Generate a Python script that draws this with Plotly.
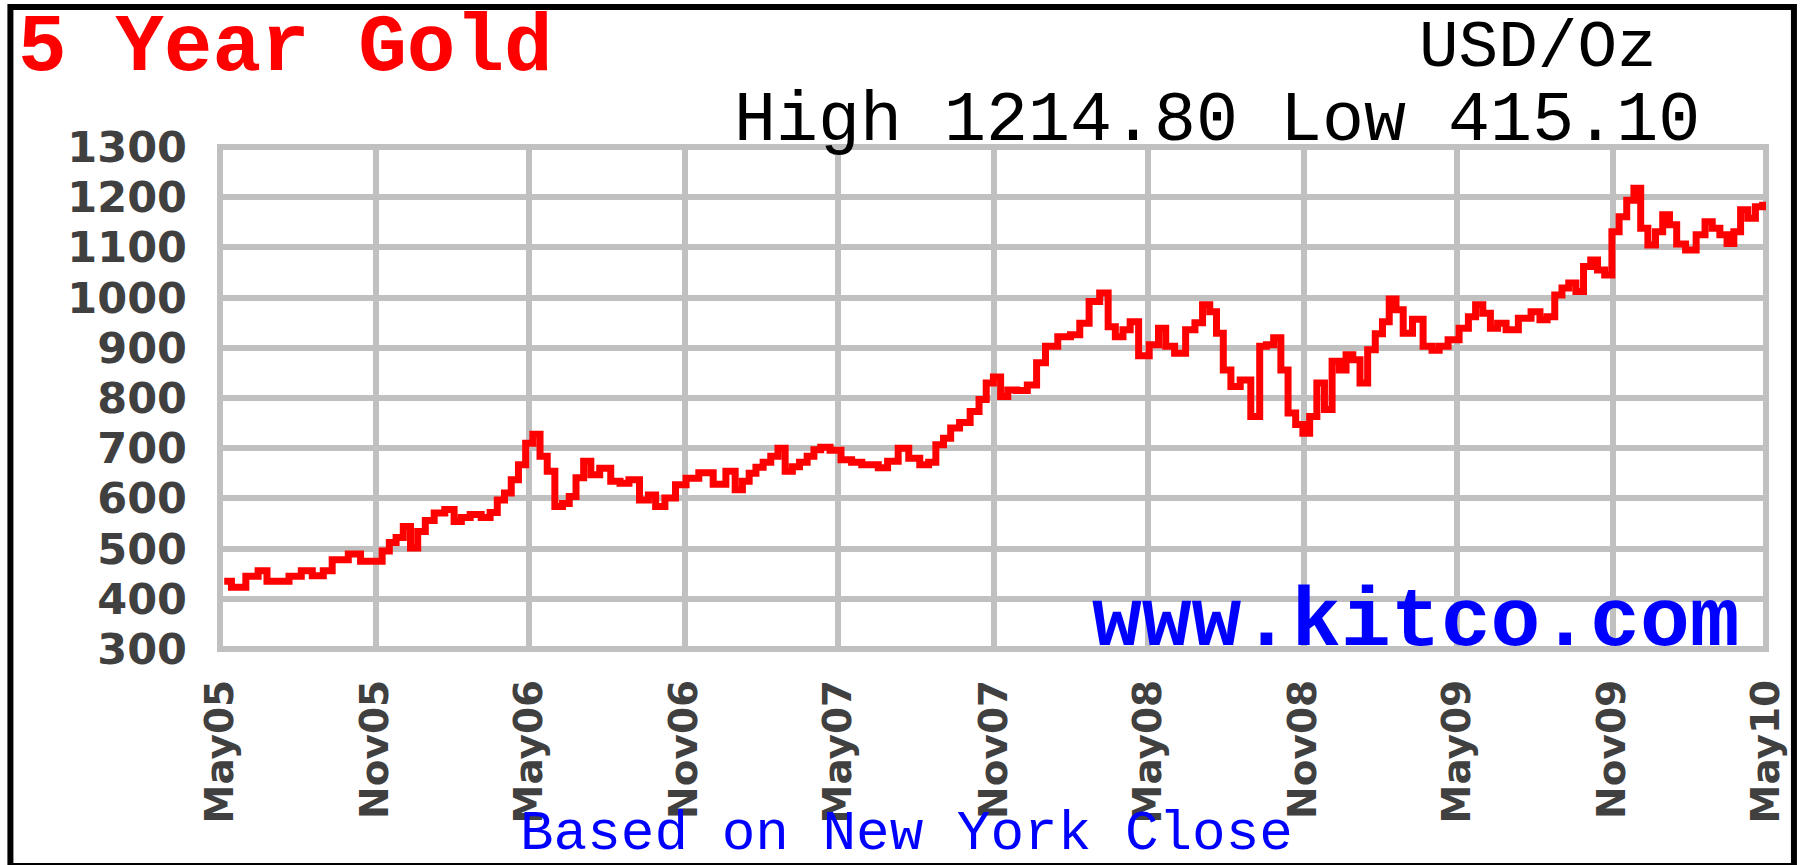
import plotly.graph_objects as go

# ---- data ----
dates = [
    "2005-05-06","2005-05-23","2005-06-09","2005-06-21","2005-06-30","2005-07-13","2005-07-30","2005-08-11","2005-08-25","2005-09-06",
    "2005-09-15","2005-09-23","2005-10-06","2005-10-22","2005-11-04","2005-11-13","2005-11-21","2005-11-29","2005-12-08","2005-12-16",
    "2005-12-25","2006-01-03","2006-01-15","2006-01-28","2006-02-06","2006-02-14","2006-02-27","2006-03-12","2006-03-20","2006-03-29",
    "2006-04-06","2006-04-14","2006-04-23","2006-05-01","2006-05-10","2006-05-18","2006-05-27","2006-06-05","2006-06-14","2006-06-21",
    "2006-06-30","2006-07-09","2006-07-17","2006-07-30","2006-08-12","2006-08-21","2006-09-02","2006-09-15","2006-09-23","2006-10-02",
    "2006-10-15","2006-10-27","2006-11-09","2006-11-26","2006-12-13","2006-12-26","2007-01-04","2007-01-12","2007-01-20","2007-01-28",
    "2007-02-06","2007-02-15","2007-02-23","2007-03-04","2007-03-12","2007-03-21","2007-03-30","2007-04-06","2007-04-15","2007-04-28",
    "2007-05-11","2007-05-23","2007-06-04","2007-06-13","2007-06-22","2007-07-05","2007-07-17","2007-07-30","2007-08-12","2007-08-20",
    "2007-08-29","2007-09-07","2007-09-15","2007-09-28","2007-10-10","2007-10-19","2007-10-27","2007-11-05","2007-11-13","2007-11-22",
    "2007-12-04","2007-12-17","2007-12-26","2008-01-07","2008-01-24","2008-02-06","2008-02-15","2008-02-28","2008-03-11","2008-03-19",
    "2008-03-28","2008-04-06","2008-04-14","2008-04-26","2008-05-09","2008-05-18","2008-05-26","2008-06-08","2008-06-21","2008-06-30",
    "2008-07-09","2008-07-17","2008-07-25","2008-08-02","2008-08-12","2008-08-24","2008-09-06","2008-09-14","2008-09-22","2008-10-01",
    "2008-10-09","2008-10-18","2008-10-27","2008-11-04","2008-11-12","2008-11-21","2008-11-30","2008-12-09","2008-12-17","2008-12-25",
    "2009-01-02","2009-01-11","2009-01-20","2009-01-29","2009-02-06","2009-02-14","2009-02-22","2009-03-03","2009-03-16","2009-03-28",
    "2009-04-06","2009-04-14","2009-04-27","2009-05-10","2009-05-19","2009-05-27","2009-06-05","2009-06-14","2009-06-22","2009-07-04",
    "2009-07-21","2009-08-03","2009-08-11","2009-08-20","2009-08-29","2009-09-06","2009-09-14","2009-09-23","2009-10-02","2009-10-10",
    "2009-10-18","2009-10-27","2009-11-04","2009-11-13","2009-11-22","2009-11-30","2009-12-08","2009-12-17","2009-12-26","2010-01-03",
    "2010-01-11","2010-01-20","2010-02-01","2010-02-14","2010-02-22","2010-03-03","2010-03-12","2010-03-20","2010-03-28","2010-04-05",
    "2010-04-14","2010-04-23","2010-05-01",
]

gold_usd_oz = [
    435, 423, 445, 456, 435, 435, 445, 456, 446, 456,
    478, 478, 489, 475, 475, 495, 512, 522, 544, 501,
    534, 556, 571, 578, 554, 562, 568, 562, 572, 597,
    611, 637, 667, 710, 728, 684, 654, 584, 590, 604,
    641, 674, 647, 660, 634, 630, 637, 597, 607, 584,
    601, 627, 640, 651, 628, 654, 617, 634, 650, 662,
    672, 684, 700, 654, 663, 672, 684, 697, 702, 696,
    677, 672, 667, 667, 661, 674, 700, 680, 667, 672,
    707, 720, 740, 751, 773, 797, 830, 842, 803, 816,
    815, 826, 870, 903, 922, 926, 949, 992, 1009, 942,
    922, 936, 952, 884, 906, 939, 903, 889, 936, 950,
    986, 972, 929, 856, 823, 836, 763, 903, 906, 920,
    856, 770, 747, 730, 763, 830, 777, 873, 856, 886,
    876, 830, 896, 928, 952, 997, 976, 929, 957, 903,
    895, 903, 916, 939, 962, 986, 969, 939, 949, 936,
    959, 972, 956, 962, 1005, 1019, 1029, 1012, 1062, 1075,
    1055, 1045, 1131, 1161, 1194, 1218, 1138, 1105, 1131, 1165,
    1145, 1107, 1095, 1125, 1151, 1138, 1125, 1108, 1131, 1175,
    1158, 1181, 1184,
]

x_tick_dates = ["2005-05-01", "2005-11-01", "2006-05-01", "2006-11-01", "2007-05-01", "2007-11-01",
                "2008-05-01", "2008-11-01", "2009-05-01", "2009-11-01", "2010-05-01"]
x_tick_labels = ["May05", "Nov05", "May06", "Nov06", "May07", "Nov07",
                 "May08", "Nov08", "May09", "Nov09", "May10"]
y_ticks = [300, 400, 500, 600, 700, 800, 900, 1000, 1100, 1200, 1300]

title_text = "5 Year Gold"
unit_text = "USD/Oz"
high_low_text = "High 1214.80 Low 415.10"
site_text = "www.kitco.com"
footer_text = "Based on New York Close"

# ---- figure ----
W, H = 1800, 865
ML, MR, MT, MB = 220, 31, 147, 216
PW, PH = W - ML - MR, H - MT - MB


def px(x):
    return (x - ML) / PW


def py(y):
    return (H - MB - y) / PH


MONO = "Liberation Mono"
SANS = "DejaVu Sans"
GRID = "#C0C0C0"
TICK = "#404040"

fig = go.Figure()
fig.add_trace(go.Scatter(
    x=dates, y=gold_usd_oz, mode="lines",
    line=dict(color="#FF0000", width=7, shape="hvh"),
    hoverinfo="x+y", showlegend=False,
))

fig.update_layout(
    width=W, height=H,
    margin=dict(l=ML, r=MR, t=MT, b=MB, pad=0),
    paper_bgcolor="white", plot_bgcolor="white",
    xaxis=dict(
        type="date", range=[x_tick_dates[0], x_tick_dates[-1]],
        tickmode="array", tickvals=x_tick_dates, ticktext=x_tick_labels,
        tickangle=-90, ticks="", showline=False, zeroline=False,
        showgrid=True, gridcolor=GRID, gridwidth=6,
        tickfont=dict(family=SANS, size=39, color=TICK, weight="bold"),
        ticklabelstandoff=22,
    ),
    yaxis=dict(
        range=[300, 1300], tickmode="array", tickvals=y_ticks,
        ticks="", showline=False, zeroline=False,
        showgrid=True, gridcolor=GRID, gridwidth=6,
        tickfont=dict(family=SANS, size=43, color=TICK, weight="bold"),
        ticklabelstandoff=32,
    ),
    shapes=[
        dict(type="rect", xref="paper", yref="paper", x0=0, x1=1, y0=0, y1=1,
             line=dict(color=GRID, width=6), layer="below"),
        dict(type="rect", xref="paper", yref="paper",
             x0=px(10), x1=px(1797), y0=py(866), y1=py(7),
             line=dict(color="black", width=6), layer="above"),
    ],
    annotations=[
        dict(text=title_text, xref="paper", yref="paper", x=px(16), y=py(49),
             xanchor="left", yanchor="middle", showarrow=False,
             font=dict(family=MONO, size=81, color="#FF0000", weight="bold")),
        dict(text=unit_text, xref="paper", yref="paper", x=px(1662), y=py(49),
             xanchor="right", yanchor="middle", showarrow=False,
             font=dict(family=MONO, size=66, color="black")),
        dict(text=high_low_text, xref="paper", yref="paper", x=px(1705), y=py(121),
             xanchor="right", yanchor="middle", showarrow=False,
             font=dict(family=MONO, size=70, color="black")),
        dict(text=site_text, xref="paper", yref="paper", x=px(1745), y=py(623),
             xanchor="right", yanchor="middle", showarrow=False,
             font=dict(family=MONO, size=83, color="#0000FF", weight="bold")),
        dict(text=footer_text, xref="paper", yref="paper", x=px(908), y=py(834),
             xanchor="center", yanchor="middle", showarrow=False,
             font=dict(family=MONO, size=56, color="#0000FF")),
    ],
)

fig.write_html(
    "out.html",
    config={"displayModeBar": False},
    post_script="document.body.style.margin='0';document.body.style.overflow='hidden';",
)
